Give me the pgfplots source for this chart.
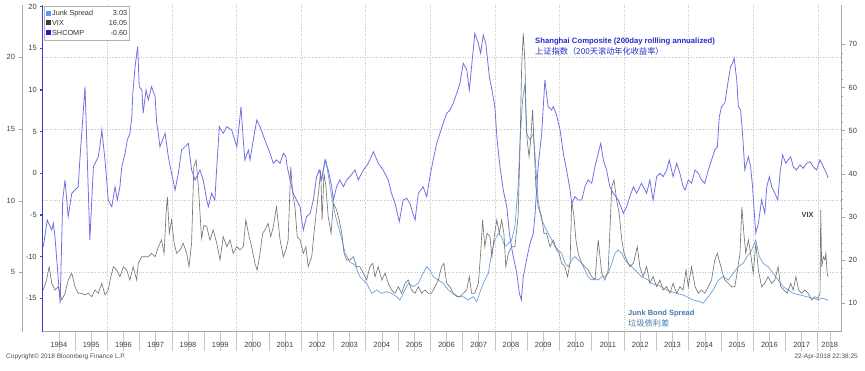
\documentclass[border=0pt]{standalone}
\usepackage{fontspec}
\setmainfont{Liberation Sans}
\newfontfamily\cjk{Noto Sans CJK SC}
\usepackage{pgfplots}
\pgfplotsset{compat=1.18}
\definecolor{shc}{RGB}{112,112,228}
\definecolor{shcaxis}{RGB}{60,60,205}
\definecolor{vixc}{RGB}{118,118,118}
\definecolor{junkc}{RGB}{112,165,222}
\definecolor{ljunk}{RGB}{100,150,230}
\definecolor{lvix}{RGB}{60,60,60}
\definecolor{lshc}{RGB}{30,30,200}
\definecolor{annshc}{RGB}{40,40,200}
\definecolor{annjunk}{RGB}{70,120,170}
\definecolor{annvix}{RGB}{70,70,70}
\pgfplotsset{base/.style={at={(42.7pt,38.3pt)}, anchor=south west, scale only axis,
  width=799pt, height=326.7pt, xmin=1994, xmax=2018.74,
  tick label style={font=\fontsize{7.5}{8}\selectfont, color=black!75},
  /pgf/number format/assume math mode=true, tick align=outside,
  xmajorgrids=false, ymajorgrids=false}}
\begin{document}
\begin{tikzpicture}
\path[use as bounding box] (0,0) rectangle (865pt,370pt);
% ---------- Junk spread (outer left axis, grid) ----------
\begin{axis}[base, ymin=0.855, ymax=23.65,
  axis y line*=left, axis x line*=bottom,
  x axis line style={draw=none}, xtick={1996,1998,2000,2002,2004,2006,2008,2010,2012,2014,2016,2018}, xticklabels={},
  xtick style={draw=none},
  xmajorgrids=true, ymajorgrids=true, grid style={dotted, gray!45, line width=0.45pt},
  ytick={5,10,15,20}, axis y line shift=20.7pt,
  y axis line style={gray!70, line width=0.5pt}, ytick style={gray!70},
  major tick length=3.5pt]
\addplot[junkc, line width=0.75pt] table {
2002.65 11.79
2002.77 12.84
2002.89 11.09
2003.02 9.35
2003.14 8.30
2003.27 7.25
2003.36 6.35
2003.51 5.72
2003.67 5.51
2003.82 4.69
2004.03 4.23
2004.19 3.53
2004.34 3.76
2004.50 3.53
2004.65 3.65
2004.80 3.53
2004.96 3.30
2005.06 3.07
2005.16 3.53
2005.32 4.23
2005.47 4.00
2005.63 4.23
2005.78 4.93
2005.89 5.39
2005.99 5.16
2006.09 4.69
2006.25 4.46
2006.40 4.23
2006.56 3.76
2006.71 3.53
2006.87 3.30
2007.02 3.30
2007.18 3.07
2007.33 3.30
2007.44 2.95
2007.56 3.76
2007.69 4.46
2007.80 4.93
2007.90 6.33
2008.00 7.25
2008.11 7.72
2008.21 7.48
2008.31 6.79
2008.42 7.02
2008.52 7.25
2008.62 8.18
2008.72 10.97
2008.78 14.23
2008.86 17.02
2008.93 18.19
2008.98 14.70
2009.09 14.23
2009.19 14.70
2009.24 13.30
2009.34 10.05
2009.45 8.65
2009.55 8.18
2009.65 7.72
2009.76 7.25
2009.86 6.79
2009.96 6.56
2010.07 6.33
2010.17 5.63
2010.27 5.39
2010.38 5.86
2010.48 6.09
2010.58 5.86
2010.69 5.63
2010.79 5.16
2010.89 4.69
2011.00 4.46
2011.10 4.58
2011.20 4.46
2011.31 4.69
2011.41 4.69
2011.51 4.93
2011.62 5.63
2011.72 6.33
2011.82 6.56
2011.93 6.33
2012.03 5.86
2012.13 5.63
2012.24 5.39
2012.34 5.16
2012.44 4.93
2012.54 4.69
2012.65 4.58
2012.75 4.46
2012.85 4.23
2013.01 4.11
2013.16 4.00
2013.32 3.76
2013.47 3.65
2013.63 3.53
2013.83 3.42
2013.94 3.30
2014.14 3.07
2014.35 2.95
2014.45 2.84
2014.61 3.30
2014.76 3.76
2014.92 4.46
2015.07 4.69
2015.23 4.46
2015.38 4.93
2015.54 5.39
2015.69 5.63
2015.80 6.09
2015.90 6.33
2016.00 6.79
2016.08 7.25
2016.19 6.09
2016.31 5.63
2016.46 5.39
2016.62 4.93
2016.77 4.46
2016.93 4.00
2017.08 3.76
2017.24 3.53
2017.45 3.42
2017.65 3.30
2017.86 3.19
2018.01 3.07
2018.12 3.19
2018.27 3.10
2018.31 3.03
};
\end{axis}
% ---------- VIX (right axis) ----------
\begin{axis}[base, ymin=3.34, ymax=79.14,
  axis y line*=right, axis x line=none,
  ytick={10,20,...,70}, minor y tick num=4,
  major tick length=3.5pt, minor tick length=1.5pt,
  y axis line style={gray!70, line width=0.5pt}, ytick style={gray!70}]
\addplot[vixc, line width=0.65pt] table {
1994.02 13.02
1994.12 15.34
1994.20 18.42
1994.28 14.57
1994.38 13.02
1994.48 13.78
1994.59 10.70
1994.69 12.25
1994.79 15.34
1994.90 16.89
1995.00 13.78
1995.10 12.25
1995.21 12.25
1995.31 11.86
1995.41 12.25
1995.52 11.46
1995.62 13.02
1995.72 12.25
1995.83 14.57
1995.93 11.86
1996.03 13.02
1996.11 16.10
1996.19 18.42
1996.29 17.66
1996.39 16.10
1996.50 18.42
1996.60 17.66
1996.70 15.34
1996.80 18.42
1996.91 15.34
1996.96 19.21
1997.07 20.74
1997.17 20.74
1997.27 20.74
1997.37 21.53
1997.48 20.74
1997.58 23.06
1997.68 24.62
1997.76 21.53
1997.82 30.81
1997.86 34.66
1997.92 26.17
1997.99 29.26
1998.07 23.85
1998.15 21.53
1998.25 22.30
1998.35 23.85
1998.46 21.53
1998.53 18.42
1998.61 23.85
1998.68 41.62
1998.75 43.18
1998.82 36.98
1998.92 25.00
1998.99 28.00
1999.08 27.70
1999.18 24.62
1999.28 26.94
1999.39 23.85
1999.49 19.98
1999.59 25.38
1999.70 23.06
1999.80 24.62
1999.90 21.53
2000.01 23.06
2000.11 22.30
2000.21 23.06
2000.29 29.26
2000.37 26.17
2000.47 23.06
2000.57 19.21
2000.64 17.66
2000.73 21.53
2000.81 26.17
2000.88 26.94
2000.98 28.49
2001.06 25.38
2001.14 27.70
2001.24 32.34
2001.35 24.62
2001.45 20.74
2001.53 22.30
2001.60 24.62
2001.68 41.62
2001.74 35.45
2001.81 32.34
2001.88 25.38
2001.97 24.62
2002.07 21.53
2002.15 23.06
2002.22 18.42
2002.33 20.74
2002.41 26.94
2002.48 31.58
2002.56 36.98
2002.61 40.86
2002.65 29.26
2002.71 40.09
2002.77 36.98
2002.84 30.02
2002.93 26.17
2003.00 33.13
2003.10 31.58
2003.18 29.26
2003.26 26.17
2003.33 21.53
2003.41 19.98
2003.51 19.98
2003.62 20.74
2003.72 18.42
2003.82 18.42
2003.93 16.89
2004.03 15.34
2004.13 18.42
2004.22 19.21
2004.29 16.10
2004.39 18.42
2004.50 15.34
2004.60 16.89
2004.70 14.57
2004.80 13.02
2004.91 12.25
2005.01 13.78
2005.11 12.25
2005.22 14.57
2005.32 15.34
2005.42 13.02
2005.53 12.25
2005.63 13.78
2005.73 12.25
2005.84 13.02
2005.94 12.25
2006.04 12.25
2006.15 13.78
2006.25 15.34
2006.35 18.42
2006.42 19.21
2006.51 14.57
2006.61 13.78
2006.71 12.25
2006.82 11.46
2006.92 11.46
2007.02 12.25
2007.13 13.02
2007.21 16.10
2007.28 12.25
2007.38 12.25
2007.49 14.57
2007.56 21.53
2007.62 29.26
2007.69 23.06
2007.76 26.17
2007.85 25.38
2007.91 20.74
2007.98 25.38
2008.06 29.26
2008.14 26.17
2008.21 29.26
2008.28 26.17
2008.34 18.42
2008.42 21.53
2008.52 23.06
2008.62 23.06
2008.72 30.02
2008.78 46.26
2008.83 64.82
2008.88 72.57
2008.93 66.38
2008.96 55.54
2009.00 47.82
2009.06 43.94
2009.11 47.82
2009.17 54.78
2009.21 47.82
2009.27 36.98
2009.34 32.34
2009.45 30.02
2009.52 26.17
2009.60 26.17
2009.71 23.06
2009.81 24.62
2009.91 22.30
2009.99 21.53
2010.07 19.21
2010.17 18.42
2010.25 16.10
2010.33 19.21
2010.38 33.90
2010.45 30.02
2010.51 24.62
2010.58 21.53
2010.69 19.21
2010.79 18.42
2010.89 17.66
2011.00 16.10
2011.10 15.34
2011.20 24.62
2011.31 16.89
2011.41 15.34
2011.51 17.66
2011.56 26.17
2011.62 36.98
2011.69 38.54
2011.77 33.90
2011.85 30.81
2011.93 24.62
2012.00 21.53
2012.08 19.98
2012.18 18.42
2012.29 19.21
2012.41 23.06
2012.49 18.42
2012.59 16.10
2012.70 18.42
2012.80 14.57
2012.90 16.10
2013.01 13.78
2013.11 15.34
2013.21 13.02
2013.32 13.78
2013.42 12.25
2013.52 14.57
2013.63 12.25
2013.73 13.78
2013.83 13.02
2013.92 17.66
2013.99 13.78
2014.09 18.42
2014.20 13.78
2014.30 12.25
2014.40 13.02
2014.50 12.25
2014.61 13.78
2014.71 15.34
2014.81 19.98
2014.89 21.53
2014.97 19.21
2015.05 16.89
2015.12 15.34
2015.23 14.57
2015.33 13.78
2015.43 13.78
2015.50 16.89
2015.59 21.53
2015.65 32.34
2015.71 26.17
2015.77 21.53
2015.85 24.62
2015.92 21.53
2016.00 16.89
2016.08 23.85
2016.16 17.66
2016.26 13.78
2016.36 14.57
2016.46 16.10
2016.57 14.57
2016.67 15.34
2016.77 18.42
2016.85 13.78
2016.95 13.02
2017.05 12.25
2017.16 14.57
2017.24 13.02
2017.32 16.10
2017.41 13.02
2017.50 12.25
2017.60 13.02
2017.70 12.25
2017.81 10.70
2017.91 11.46
2018.01 11.09
2018.07 12.25
2018.09 31.58
2018.12 18.42
2018.17 20.74
2018.22 19.98
2018.25 21.53
2018.29 16.89
2018.32 16.05
};
\end{axis}
% ---------- SHCOMP (inner left axis, x axis) ----------
\begin{axis}[base, ymin=-19.016, ymax=20.204,
  axis y line*=left, axis x line*=bottom,
  ytick={-15,-10,...,20}, major tick length=2.5pt,
  y axis line style={shcaxis, line width=0.9pt}, ytick style={shcaxis, line width=1.2pt},
  x axis line style={gray!70, line width=0.5pt},
  xtick={1995,...,2018}, xticklabels={},
  xtick style={gray!45, line width=0.5pt, /pgfplots/major tick length=19pt},
  extra x ticks={1994.5,1995.5,...,2017.5,2018.37},
  extra x tick labels={1994,1995,1996,1997,1998,1999,2000,2001,2002,2003,2004,2005,2006,2007,2008,2009,2010,2011,2012,2013,2014,2015,2016,2017,2018},
  extra x tick style={grid=none, /pgfplots/major tick length=0pt, tick label style={yshift=-7pt}}]
\addplot[shc, line width=0.8pt] table {
1994.02 -8.81
1994.14 -5.61
1994.28 -6.81
1994.33 -6.00
1994.38 -7.61
1994.54 -15.61
1994.62 -3.21
1994.69 -0.80
1994.79 -5.21
1994.90 -2.40
1995.00 -2.00
1995.10 -1.61
1995.15 1.60
1995.31 10.40
1995.46 -8.01
1995.57 0.79
1995.72 1.99
1995.77 3.19
1995.83 5.20
1995.93 1.60
1996.03 -3.21
1996.14 -4.01
1996.24 -1.61
1996.31 -3.21
1996.39 -1.61
1996.45 0.79
1996.55 2.40
1996.62 4.00
1996.70 4.80
1996.76 6.79
1996.79 9.60
1996.86 12.80
1996.94 15.20
1996.99 10.40
1997.07 10.00
1997.11 7.20
1997.20 10.00
1997.27 8.80
1997.37 10.40
1997.48 9.20
1997.53 6.00
1997.58 4.80
1997.63 3.19
1997.79 4.80
1997.89 1.99
1997.99 0.00
1998.10 -2.00
1998.20 0.00
1998.30 2.80
1998.51 3.60
1998.61 0.40
1998.72 -0.80
1998.87 0.40
1998.97 -0.80
1999.08 -3.21
1999.13 -4.01
1999.23 -2.40
1999.33 -3.21
1999.39 0.79
1999.47 5.59
1999.59 4.80
1999.70 5.59
1999.85 5.20
2000.01 3.19
2000.09 6.00
2000.14 8.00
2000.21 4.00
2000.26 1.60
2000.37 2.80
2000.42 1.60
2000.52 4.00
2000.63 6.40
2000.73 5.59
2000.88 4.00
2001.04 2.40
2001.14 1.20
2001.24 1.60
2001.35 1.20
2001.45 2.40
2001.53 1.99
2001.57 0.79
2001.66 -0.80
2001.76 -2.40
2001.86 -3.21
2001.97 -4.01
2002.02 -5.61
2002.07 -6.81
2002.17 -5.21
2002.28 -4.80
2002.38 -3.21
2002.48 -0.41
2002.56 0.40
2002.64 -0.80
2002.74 1.60
2002.84 0.40
2002.95 -1.61
2003.00 -3.21
2003.10 -1.61
2003.20 -0.80
2003.31 -1.61
2003.41 -0.80
2003.51 -0.41
2003.67 0.40
2003.77 -0.80
2003.93 0.40
2004.08 1.20
2004.24 2.59
2004.39 1.20
2004.54 0.40
2004.70 -0.80
2004.80 -2.40
2004.91 -3.60
2005.04 -5.81
2005.16 -3.21
2005.27 -3.00
2005.37 -3.60
2005.46 -4.80
2005.53 -5.61
2005.63 -2.40
2005.78 -1.61
2005.89 -2.81
2005.99 -0.41
2006.09 1.60
2006.20 3.60
2006.30 4.80
2006.40 6.00
2006.51 7.20
2006.61 7.60
2006.71 8.40
2006.82 9.60
2006.92 10.80
2007.02 13.21
2007.13 12.40
2007.21 10.00
2007.28 12.80
2007.38 16.81
2007.49 15.61
2007.56 14.41
2007.64 16.60
2007.72 15.61
2007.83 11.60
2007.93 9.60
2008.00 8.00
2008.07 4.00
2008.16 0.79
2008.26 -2.00
2008.37 -4.01
2008.45 -7.20
2008.55 -9.60
2008.68 -12.01
2008.76 -14.41
2008.82 -15.21
2008.88 -12.41
2008.98 -10.41
2009.09 -8.40
2009.19 -7.20
2009.24 -5.21
2009.34 0.79
2009.45 4.80
2009.55 11.20
2009.65 8.00
2009.76 7.60
2009.81 8.00
2009.91 7.00
2010.02 5.20
2010.12 2.40
2010.22 0.40
2010.33 -2.00
2010.38 -3.60
2010.48 -2.81
2010.58 -3.21
2010.69 -3.21
2010.79 -1.61
2010.89 -0.80
2011.00 -1.20
2011.10 0.79
2011.20 2.40
2011.28 3.60
2011.36 1.60
2011.46 0.40
2011.56 -1.61
2011.67 -2.40
2011.82 -3.21
2011.98 -4.80
2012.08 -4.01
2012.18 -2.81
2012.29 -1.61
2012.39 -2.40
2012.54 -1.20
2012.70 -2.40
2012.80 -0.80
2012.90 -3.21
2013.01 -0.41
2013.11 0.00
2013.21 -0.41
2013.32 0.40
2013.40 1.60
2013.52 -0.41
2013.63 1.20
2013.73 0.00
2013.83 -1.61
2013.89 -2.00
2013.99 -0.80
2014.09 -1.20
2014.20 0.40
2014.30 0.00
2014.40 -0.80
2014.50 -1.20
2014.61 0.40
2014.71 1.60
2014.81 2.80
2014.89 3.19
2014.95 6.79
2015.02 8.00
2015.12 8.40
2015.23 11.20
2015.30 12.80
2015.36 13.21
2015.41 13.81
2015.49 11.20
2015.54 8.00
2015.61 7.60
2015.67 4.80
2015.74 0.40
2015.85 1.99
2015.92 0.79
2015.98 -1.61
2016.02 -4.01
2016.08 -7.20
2016.16 -6.00
2016.26 -3.21
2016.36 -4.80
2016.42 -1.61
2016.50 -0.41
2016.57 -1.61
2016.67 -2.40
2016.76 -3.21
2016.83 0.00
2016.91 2.20
2017.01 1.20
2017.08 1.60
2017.16 1.99
2017.24 0.79
2017.34 0.40
2017.45 1.00
2017.55 0.60
2017.65 1.20
2017.76 1.39
2017.86 0.79
2017.96 0.40
2018.07 1.60
2018.17 0.79
2018.27 0.00
2018.32 -0.60
};
\end{axis}
% ---------- legend and annotations ----------
\node[draw=gray!60, fill=white, anchor=north west, inner sep=2.2pt,
  font=\fontsize{7.3}{9.7}\selectfont, text=black!80] at (43.5pt,363.5pt)
 {\begin{tabular}{@{}l@{}r@{}}
  \makebox[63pt][l]{\textcolor{ljunk}{\rule{5pt}{5pt}}\,Junk Spread} & 3.03\\
  \makebox[63pt][l]{\textcolor{lvix}{\rule{5pt}{5pt}}\,VIX} & 16.05\\
  \makebox[63pt][l]{\textcolor{lshc}{\rule{5pt}{5pt}}\,SHCOMP} & -0.60
 \end{tabular}};
\node[anchor=west, inner sep=0pt, text=annshc, font=\bfseries\fontsize{7.7}{8}\selectfont]
  at (535pt,328.3pt) {Shanghai Composite (200day rollling annualized)};
\node[anchor=west, inner sep=0pt, text=annshc, font=\cjk\fontsize{8.2}{9}\selectfont]
  at (535pt,319pt) {上证指数（200天滚动年化收益率）};
\node[anchor=west, inner sep=0pt, text=annvix, font=\bfseries\fontsize{7.4}{8}\selectfont]
  at (801.5pt,155pt) {VIX};
\node[anchor=west, inner sep=0pt, text=annjunk, font=\bfseries\fontsize{7.5}{8}\selectfont]
  at (628pt,56pt) {Junk Bond Spread};
\node[anchor=west, inner sep=0pt, text=annjunk, font=\cjk\fontsize{8.2}{9}\selectfont]
  at (628pt,47pt) {垃圾债利差};
\node[anchor=west, inner sep=0pt, text=black!70, font=\fontsize{6.5}{7}\selectfont]
  at (6pt,13.3pt) {Copyright© 2018 Bloomberg Finance L.P.};
\node[anchor=east, inner sep=0pt, text=black!70, font=\fontsize{6.5}{7}\selectfont]
  at (858pt,13.3pt) {22-Apr-2018 22:38:25};
\end{tikzpicture}
\end{document}
